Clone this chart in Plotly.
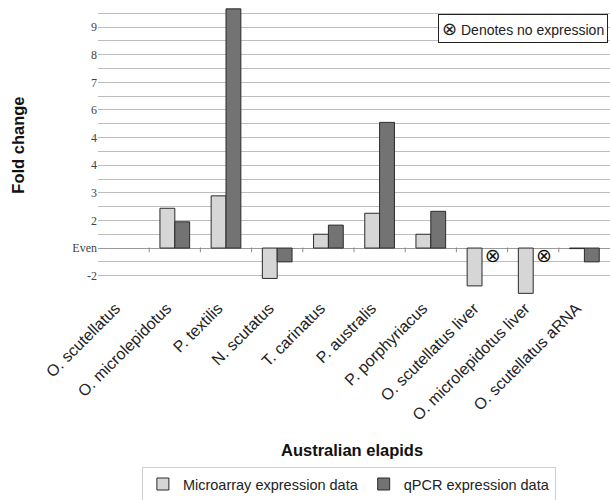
import plotly.graph_objects as go

categories = ["O. scutellatus", "O. microlepidotus", "P. textilis", "N. scutatus",
              "T. carinatus", "P. australis", "P. porphyriacus", "O. scutellatus liver",
              "O. microlepidotus liver", "O. scutellatus aRNA"]
# values on the chart's own axis scale (Even = 0, label "2" = 1, "3" = 2, ... "-2" = -1)
microarray = [None, 1.44, 1.89, -1.10, 0.50, 1.26, 0.50, -1.37, -1.64, -0.02]
qpcr = [None, 0.95, 8.66, -0.50, 0.83, 4.55, 1.33, None, None, -0.50]
no_expression = [False, False, False, False, False, False, False, True, True, False]

tick_vals = [-1, -0.5, 0, 0.5, 1, 1.5, 2, 2.5, 3, 3.5, 4, 4.5, 5, 5.5, 6, 6.5, 7, 7.5, 8, 8.5]
tick_text = ["-2", "", "Even", "", "2", "", "3", "", "4", "", "4", "", "6", "", "7", "", "8", "", "9", ""]

x = list(range(len(categories)))

fig = go.Figure()
fig.add_trace(go.Bar(x=x, y=microarray, name="Microarray expression data",
                     marker=dict(color="#d6d6d6", line=dict(color="#2a2a2a", width=1))))
fig.add_trace(go.Bar(x=x, y=qpcr, name="qPCR expression data",
                     marker=dict(color="#737373", line=dict(color="#2a2a2a", width=1))))

nx = [i + 0.21 for i, f in enumerate(no_expression) if f]
fig.add_trace(go.Scatter(x=nx, y=[-0.33] * len(nx), mode="text", text=["⊗"] * len(nx),
                         textfont=dict(family="DejaVu Sans", size=19, color="#111"),
                         showlegend=False, hoverinfo="skip"))

# small tick marks on the "Even" line between categories
for i in range(1, len(categories)):
    fig.add_shape(type="line", x0=i - 0.5, x1=i - 0.5, y0=0.02, y1=-0.15,
                  line=dict(color="#888", width=1), layer="above")

fig.update_layout(
    width=610, height=500,
    margin=dict(l=98, r=0, t=5, b=205, autoexpand=False),
    paper_bgcolor="white", plot_bgcolor="white",
    barmode="group", bargap=0.42, bargroupgap=0,
    showlegend=True,
    legend=dict(orientation="h", x=0.49, xanchor="center", y=-0.652, yanchor="middle",
                bordercolor="#cfcfcf", borderwidth=1,
                font=dict(family="Liberation Sans, Arial", size=14.5, color="#222"),
                itemwidth=30, tracegroupgap=0),
    xaxis=dict(range=[-0.5, 9.5], tickvals=x, ticktext=categories, tickangle=-45,
               showgrid=False, zeroline=False, showline=False, automargin=False,
               ticks="", ticklabelshift=-8, ticklabelstandoff=0,
               tickfont=dict(family="Liberation Sans, Arial", size=16, color="#222")),
    yaxis=dict(range=[-1.7, 8.8], tickvals=tick_vals, ticktext=tick_text,
               showgrid=True, gridcolor="#bdbdbd", gridwidth=1, automargin=False,
               zeroline=True, zerolinecolor="#9a9a9a", zerolinewidth=1,
               showline=False, ticks="",
               tickfont=dict(family="Liberation Serif, Times New Roman", size=12, color="#444")),
    annotations=[
        dict(text="<b>Australian elapids</b>", xref="paper", yref="paper",
             x=0.496, y=-0.535, xanchor="center", yanchor="middle", showarrow=False,
             font=dict(family="Liberation Sans, Arial", size=16.5, color="#111")),
        dict(text="<b>Fold change</b>", xref="paper", yref="paper",
             x=-0.157, y=0.517, xanchor="center", yanchor="middle", textangle=-90,
             showarrow=False, font=dict(family="Liberation Sans, Arial", size=16.5, color="#111")),
        dict(text="<span style='font-family:DejaVu Sans;font-size:18px'>⊗</span> Denotes no expression",
             xref="paper", yref="paper", x=0.997, y=0.969, xanchor="right", yanchor="top",
             showarrow=False, bgcolor="white", bordercolor="#222", borderwidth=1, borderpad=3,
             font=dict(family="Liberation Sans, Arial", size=14, color="#222")),
    ],
)

fig.write_html("out.html", config={"displayModeBar": False},
               post_script="document.body.style.margin='0';")
